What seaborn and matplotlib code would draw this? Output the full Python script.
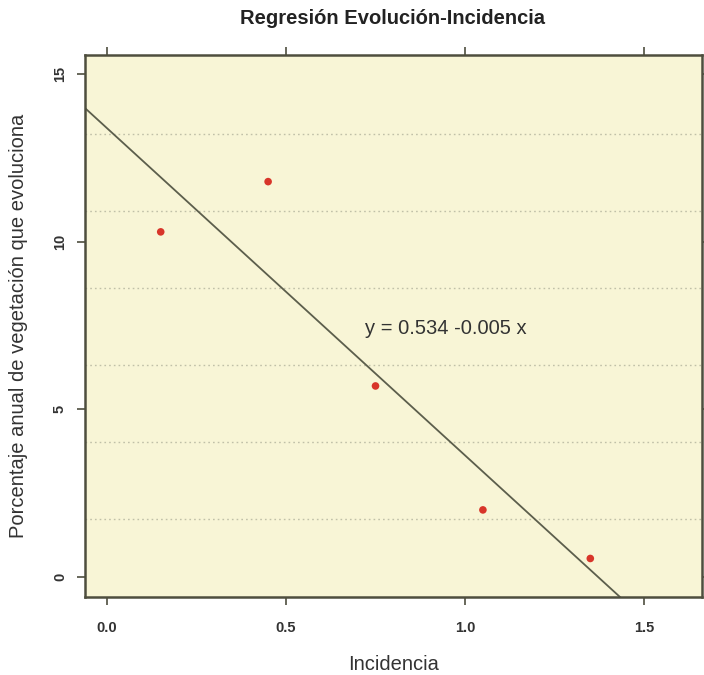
import numpy as np
import pandas as pd
import matplotlib
matplotlib.use("Agg")
import matplotlib.pyplot as plt
import seaborn as sns

# Observed values
incidencia = [0.15, 0.45, 0.75, 1.05, 1.35]
porcentaje = [10.3, 11.8, 5.7, 2.0, 0.55]

# Axis ticks and labels
x_ticks = [0.0, 0.5, 1.0, 1.5]
x_tick_labels = ["0.0", "0.5", "1.0", "1.5"]
y_ticks = [0, 5, 10, 15]
y_tick_labels = ["0", "5", "10", "15"]

# Horizontal reference lines
ref_levels = [1.72, 4.02, 6.32, 8.62, 10.92, 13.22]

title = "Regresión Evolución-Incidencia"
x_label = "Incidencia"
y_label = "Porcentaje anual de vegetación que evoluciona"
equation = "y = 0.534 -0.005 x"

df = pd.DataFrame({"Incidencia": incidencia, "Porcentaje": porcentaje})

sns.set_style("white")
plt.rcParams["font.family"] = ["Liberation Sans", "DejaVu Sans"]

fig = plt.figure(figsize=(7.04, 6.75), dpi=100)
ax = fig.add_axes([85 / 704, 1 - 597 / 675, (702 - 85) / 704, (597 - 55) / 675])

panel_bg = "#F8F5D6"
frame_col = "#4E4E3E"
ax.set_facecolor(panel_bg)
ax.set_xlim(-0.0615, 1.662)
ax.set_ylim(-0.60, 15.58)

for lv in ref_levels:
    ax.axhline(lv, color="#C0C0A8", lw=1.0, ls=(0, (1.2, 2.2)), zorder=1)

sns.regplot(
    data=df, x="Incidencia", y="Porcentaje", ax=ax, ci=None, truncate=False,
    scatter_kws=dict(color="#D8352A", s=30, alpha=1, edgecolors="none", zorder=3),
    line_kws=dict(color="#5C5E4C", lw=1.3, zorder=2),
)

ax.text(0.947, 7.42, equation, ha="center", va="center",
        fontsize=14.5, color="#333333")

ax.set_xticks(x_ticks)
ax.set_xticklabels(x_tick_labels, fontsize=10.5, fontweight="bold", color="#333333")
ax.set_yticks(y_ticks)
ax.set_yticklabels(y_tick_labels, fontsize=10.5, fontweight="bold", color="#333333",
                   rotation=90, va="center")

ax.tick_params(axis="both", which="both", direction="out", length=6, width=1.2,
               color=frame_col, top=True, right=True, bottom=True, left=True,
               labeltop=False, labelright=False)
ax.tick_params(axis="x", pad=11)
ax.tick_params(axis="y", pad=7)

for sp in ax.spines.values():
    sp.set_visible(True)
    sp.set_color(frame_col)
    sp.set_linewidth(1.8)

ax.set_xlabel(x_label, fontsize=14.5, color="#333333", labelpad=15)
ax.set_ylabel(y_label, fontsize=14.5, color="#333333", labelpad=18)

fig.suptitle(title, x=393 / 704, y=1 - 18 / 675, va="center",
             fontsize=14.5, fontweight="bold", color="#222222")

fig.savefig("out.png", dpi=100, facecolor="white")
